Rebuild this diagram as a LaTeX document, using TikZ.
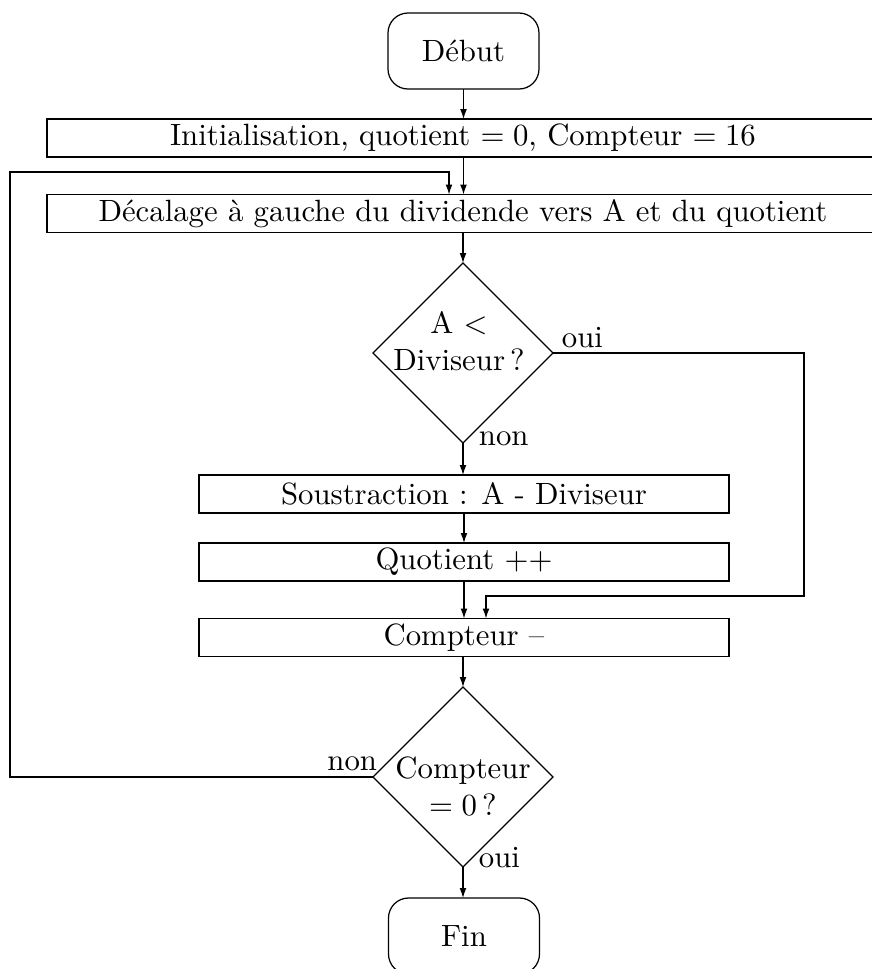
\documentclass[tikz,border=0pt]{standalone}
\usetikzlibrary{shapes.geometric,arrows.meta}
\begin{document}
\begin{tikzpicture}[x=0.325pt,y=-0.325pt,
  every node/.style={inner sep=0pt,outer sep=0pt},
  terminal/.style={draw,rounded corners=6.5pt,minimum width=151*0.325pt,minimum height=76*0.325pt},
  stepbox/.style={draw,minimum height=38*0.325pt},
  test/.style={draw,diamond,minimum width=180*0.325pt,minimum height=180*0.325pt,aspect=1},
  lbl/.style={anchor=base west},
  flow/.style={-{Latex[length=3.2pt,width=2.2pt]}},
]
\useasboundingbox (0,0) rectangle (872,969);

% blocks
\node[terminal] (debut) at (463.5,51) {Début};
\node[stepbox,minimum width=832*0.325pt] (init) at (463,138) {Initialisation, quotient $=0$, Compteur $=16$};
\node[stepbox,minimum width=832*0.325pt] (decal) at (463,213.5) {Décalage à gauche du dividende vers A et du quotient};
\node[test] (d1) at (463,353) {};
\node[align=center] (d1t) at (459,341) {A $<$\\Diviseur\,?};
\node[stepbox,minimum width=530*0.325pt] (sous) at (464,494) {Soustraction : A - Diviseur};
\node[stepbox,minimum width=530*0.325pt] (quot) at (464,562) {Quotient ++};
\node[stepbox,minimum width=530*0.325pt] (comp) at (464,637.5) {Compteur --};
\node[test] (d2) at (463,777) {};
\node[align=center] (d2t) at (463,786) {Compteur\\$=0$\,?};
\node[terminal] (fin) at (464,936) {Fin};

% bend points of the two feedback paths
\coordinate (loopbl) at (10,777);
\coordinate (looptl) at (10,172);
\coordinate (loopin) at (449,172);
\coordinate (ouir) at (804,353);
\coordinate (ouib) at (804,596);
\coordinate (ouiin) at (486,596);

% main flow
\draw[flow] (debut.south) -- (init.north -| debut.south);
\draw[flow] (init.south -| debut.south) -- (decal.north -| debut.south);
\draw[flow] (decal.south -| d1.north) -- (d1.north);
\draw[flow] (d1.south) -- (sous.north -| d1.south);
\draw[flow] (sous.south) -- (quot.north);
\draw[flow] (quot.south) -- (comp.north);
\draw[flow] (comp.south -| d2.north) -- (d2.north);
\draw[flow] (d2.south) -- (fin.north -| d2.south);

% branches
\draw[flow] (d1.east) -- (ouir) -- (ouib) -- (ouiin) -- (comp.north -| ouiin);
\draw[flow] (d2.west) -- (loopbl) -- (looptl) -- (loopin) -- (decal.north -| loopin);

% branch labels
\node[lbl] (l1o) at (562,347) {oui};
\node[lbl] (l1n) at (479,445) {non};
\node[anchor=base east] (l2n) at (377,770) {non};
\node[lbl] (l2o) at (479,867) {oui};
\end{tikzpicture}
\end{document}
